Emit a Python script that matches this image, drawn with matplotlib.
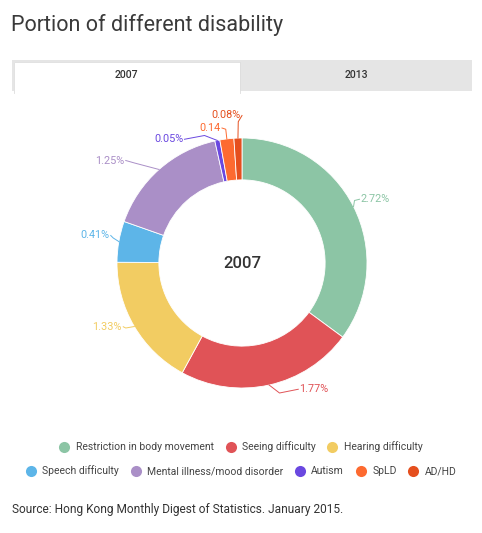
import numpy as np
import matplotlib.pyplot as plt
from matplotlib.lines import Line2D
from matplotlib.patches import Rectangle

plt.rcParams['font.family'] = ['Roboto', 'DejaVu Sans']

categories = ["Restriction in body movement", "Seeing difficulty", "Hearing difficulty",
              "Speech difficulty", "Mental illness/mood disorder", "Autism", "SpLD", "AD/HD"]
values_2007 = [2.72, 1.77, 1.33, 0.41, 1.25, 0.05, 0.14, 0.08]
value_labels = ["2.72%", "1.77%", "1.33%", "0.41%", "1.25%", "0.05%", "0.14", "0.08%"]
colors = ["#8cc5a5", "#e05357", "#f2cc62", "#5db5e8", "#aa8fc7", "#6a48e0", "#fd6a30", "#e54f1e"]

W, H = 482, 533
fig = plt.figure(figsize=(W / 100, H / 100), dpi=100)

# title
fig.text(11 / W, 1 - 25 / H, "Portion of different disability", fontsize=15.5,
         color="#3a3a3a", va="center", ha="left")

# tabs
tab = fig.add_axes([0, 0, 1, 1], zorder=-1)
tab.set_xlim(0, W)
tab.set_ylim(H, 0)
tab.axis("off")
tab.add_patch(Rectangle((12, 60), 460, 31, facecolor="#e5e5e5", edgecolor="none"))
tab.add_patch(Rectangle((13.5, 62), 226, 31, facecolor="white", edgecolor="none"))
tab.plot([13.5, 13.5, 239.5, 239.5], [93, 62, 62, 93], color="#dddddd", lw=0.6)
tab.text(126, 75, "2007", fontsize=7.5, color="#333333", ha="center", va="center",
         fontweight="medium")
tab.text(356, 75, "2013", fontsize=7.5, color="#333333", ha="center", va="center",
         fontweight="medium")

# donut: center (242, 263) px, outer radius 125 px
ax = fig.add_axes([42 / W, (H - 463) / H, 400 / W, 400 / H])
wedges, _ = ax.pie(values_2007, colors=colors, startangle=90, counterclock=False, radius=1,
                   wedgeprops=dict(width=0.335, edgecolor="white", linewidth=0.6))
ax.set_xlim(-1.6, 1.6)
ax.set_ylim(-1.6, 1.6)
ax.set_aspect("equal")
ax.axis("off")
ax.text(0, 0, "2007", fontsize=12, color="#333333", ha="center", va="center",
        fontweight="medium")

# label placement (text anchor, elbow point) in data units
label_pos = [(0.95, 0.51), (0.46, -1.01), (-0.96, -0.51), (-1.06, 0.22),
             (-0.94, 0.82), (-0.47, 0.99), (-0.17, 1.08), (-0.01, 1.18)]
elbows = [(0.9, 0.5), (0.3, -1.04), (-0.93, -0.52), (-1.03, 0.2),
          (-0.86, 0.8), (-0.3, 1.02), (-0.13, 1.07), (-0.03, 1.13)]

for w, lbl, c, (tx, ty), (ex, ey) in zip(wedges, value_labels, colors, label_pos, elbows):
    mid = np.deg2rad((w.theta1 + w.theta2) / 2)
    px, py = np.cos(mid), np.sin(mid)
    ha = "left" if tx > 0.2 else "right"
    end = tx - 0.01 if ha == "left" else tx + 0.01
    ax.plot([px, ex, end], [py, ey, ty], color=c, lw=0.7, solid_joinstyle="round")
    ax.text(tx, ty, lbl, fontsize=7.8, color=c, ha=ha, va="center")

# legend rows
handles = [Line2D([], [], marker="o", linestyle="none", markersize=8,
                  markerfacecolor=c, markeredgecolor="none") for c in colors]
rows = [(0, 3, 447), (3, 8, 471)]
for a, b, y in rows:
    fig.legend(handles[a:b], categories[a:b], loc="center", bbox_to_anchor=(0.5, 1 - y / H),
               ncol=b - a, frameon=False, fontsize=7.5, handlelength=1, handletextpad=0.6,
               columnspacing=1.1, labelcolor="#444444", borderaxespad=0)

fig.text(12 / W, 1 - 509 / H, "Source: Hong Kong Monthly Digest of Statistics. January 2015.",
         fontsize=8.55, color="#333333", ha="left", va="center")

fig.savefig("out.png", dpi=100)
